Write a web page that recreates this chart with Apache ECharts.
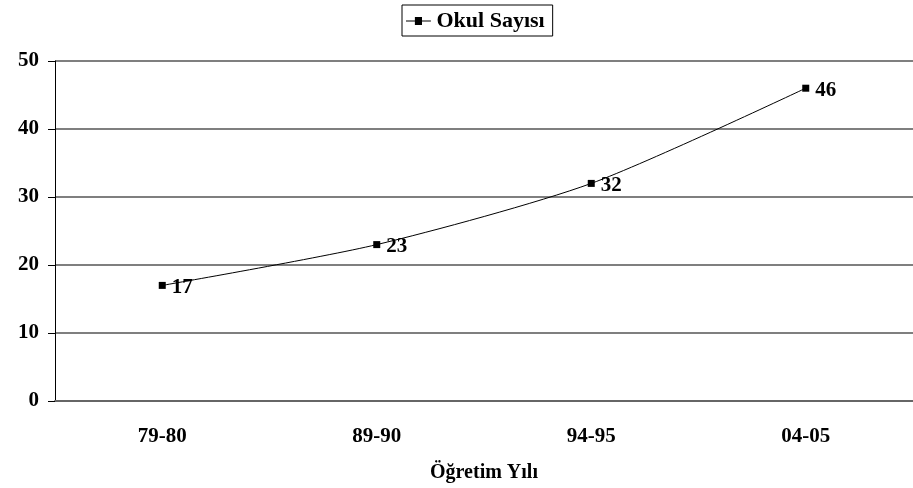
<!DOCTYPE html>
<html>
<head>
<meta charset="utf-8">
<script src="https://cdn.jsdelivr.net/npm/echarts@6/dist/echarts.min.js"></script>
<style>
  html, body { margin: 0; padding: 0; background: #fff; }
  #chart { width: 913px; height: 488px; }
</style>
</head>
<body>
<div id="chart"></div>
<script>
// veriler
var years = ['79-80', '89-90', '94-95', '04-05'];
var schoolCounts = [17, 23, 32, 46];
var yTicks = [0, 10, 20, 30, 40, 50];

var serif = '"Liberation Serif", "Times New Roman", serif';
var chart = echarts.init(document.getElementById('chart'));

chart.setOption({
    animation: false,
    backgroundColor: '#fff',
    legend: {
        top: 5,
        left: 402,
        itemWidth: 26,
        itemHeight: 8,
        itemGap: 6,
        padding: [5, 8, 4, 4],
        borderColor: '#000',
        borderWidth: 1,
        borderRadius: 0,
        textStyle: { fontFamily: serif, fontWeight: 'bold', fontSize: 22, color: '#000' },
        data: [{ name: 'Okul Sayısı', icon: 'path://M0,4 L10,4 L10,0 L18,0 L18,4 L28,4 L28,5 L18,5 L18,9 L10,9 L10,5 L0,5 Z' }]
    },
    grid: { left: 55, width: 863, top: 61, height: 340 },
    xAxis: {
        type: 'category',
        data: years,
        boundaryGap: true,
        axisLine: { lineStyle: { color: '#666', width: 2 } },
        axisTick: { show: false },
        axisLabel: { margin: 25, fontFamily: serif, fontWeight: 'bold', fontSize: 21, color: '#000' },
        name: 'Öğretim Yılı',
        nameLocation: 'middle',
        nameGap: 62,
        nameTextStyle: { fontFamily: serif, fontWeight: 'bold', fontSize: 20, color: '#000' }
    },
    yAxis: {
        type: 'value',
        min: yTicks[0],
        max: yTicks[yTicks.length - 1],
        interval: 10,
        axisLine: { show: true, onZero: false, lineStyle: { color: '#000', width: 1 } },
        axisTick: { show: true, length: 7, lineStyle: { color: '#000' } },
        axisLabel: { margin: 16, fontFamily: serif, fontWeight: 'bold', fontSize: 21, color: '#000' },
        splitLine: { show: true, lineStyle: { color: '#555', width: 1.5 } }
    },
    series: [{
        name: 'Okul Sayısı',
        type: 'line',
        data: schoolCounts,
        smooth: 0.25,
        symbol: 'rect',
        symbolSize: 7,
        itemStyle: { color: '#000' },
        lineStyle: { color: '#000', width: 1 },
        label: {
            show: true,
            position: 'right',
            distance: 6,
            offset: [0, 2],
            fontFamily: serif,
            fontWeight: 'bold',
            fontSize: 21,
            color: '#000'
        }
    }]
});
</script>
</body>
</html>
